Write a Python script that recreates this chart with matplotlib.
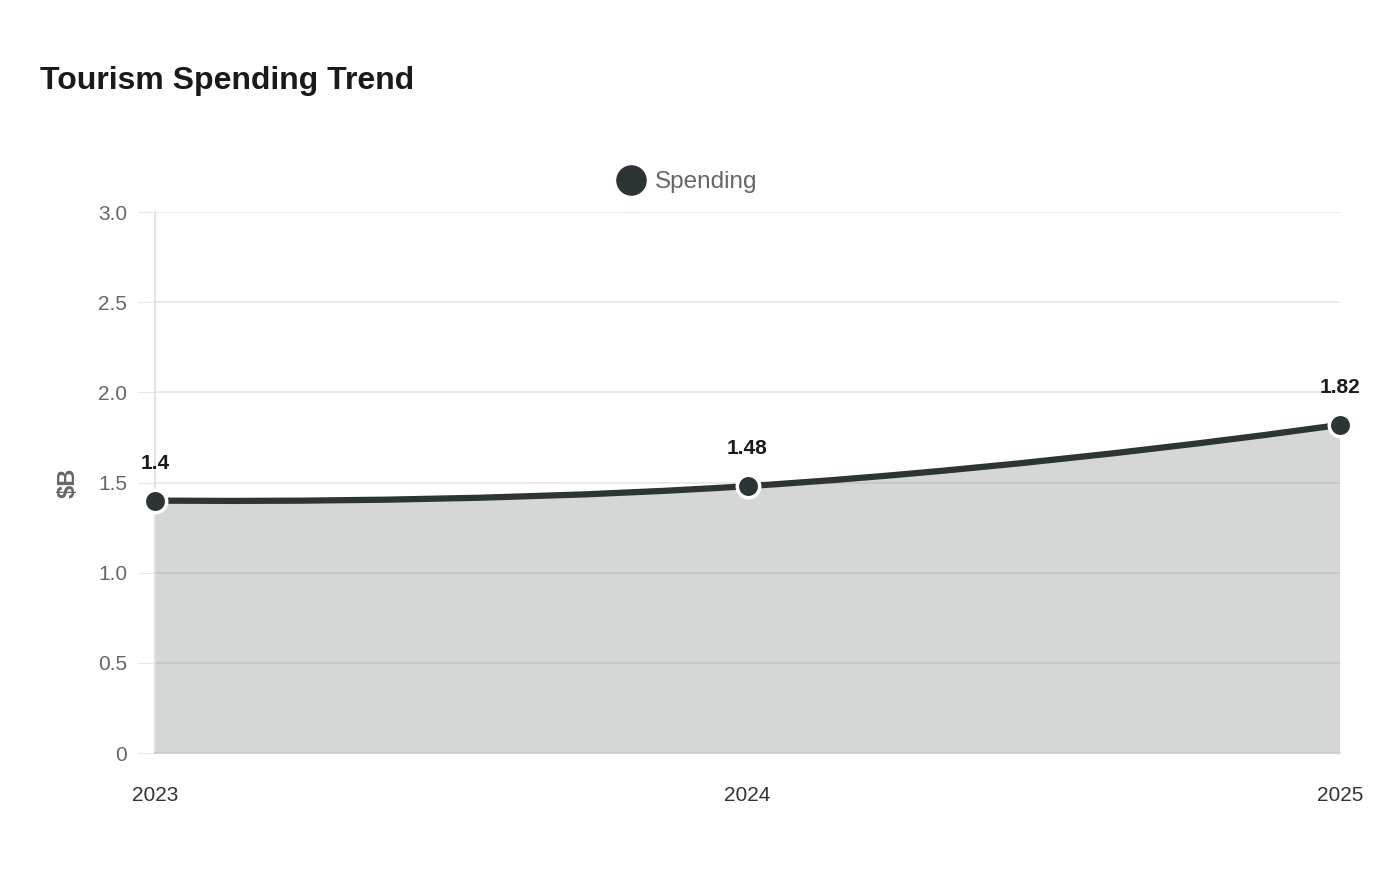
import numpy as np
import matplotlib.pyplot as plt
from matplotlib.path import Path
from matplotlib.patches import PathPatch

plt.rcParams['font.family'] = ['Liberation Sans', 'DejaVu Sans']

years = ['2023', '2024', '2025']
spending = [1.4, 1.48, 1.82]
y_ticks = [0, 0.5, 1.0, 1.5, 2.0, 2.5, 3.0]
y_tick_labels = ['0', '0.5', '1.0', '1.5', '2.0', '2.5', '3.0']

line_color = '#2d3436'

fig = plt.figure(figsize=(14, 8.8), dpi=100)
ax = fig.add_axes([155 / 1400, 1 - 753 / 880, (1340 - 155) / 1400, (753 - 212) / 880])

x = np.arange(len(years), dtype=float)
y = np.array(spending, dtype=float)

# smooth curve through the points (cubic bezier, echarts-like smoothing)
smooth = 0.5
verts = [(x[0], y[0])]
codes = [Path.MOVETO]
n = len(x)
def ctrl(i):
    if i == 0 or i == n - 1:
        return (x[i], y[i]), (x[i], y[i])
    vx, vy = x[i + 1] - x[i - 1], y[i + 1] - y[i - 1]
    d0 = np.hypot(x[i] - x[i - 1], y[i] - y[i - 1])
    d1 = np.hypot(x[i + 1] - x[i], y[i + 1] - y[i])
    r0 = d0 / (d0 + d1)
    r1 = d1 / (d0 + d1)
    before = (x[i] - vx * smooth * r0, y[i] - vy * smooth * r0)
    after = (x[i] + vx * smooth * r1, y[i] + vy * smooth * r1)
    return before, after
for i in range(n - 1):
    _, c1 = ctrl(i)
    c2, _ = ctrl(i + 1)
    verts += [c1, c2, (x[i + 1], y[i + 1])]
    codes += [Path.CURVE4] * 3
line_path = Path(verts, codes)

fill_verts = verts + [(x[-1], 0), (x[0], 0), (x[0], y[0])]
fill_codes = codes + [Path.LINETO, Path.LINETO, Path.CLOSEPOLY]
ax.add_patch(PathPatch(Path(fill_verts, fill_codes), facecolor=line_color, alpha=0.2,
                       edgecolor='none', zorder=2))
ax.add_patch(PathPatch(line_path, facecolor='none', edgecolor=line_color, lw=4.5,
                       zorder=3, capstyle='round'))
ax.scatter(x, y, s=260, color=line_color, edgecolor='white', linewidth=2.5, zorder=4,
           clip_on=False)

for xi, yi in zip(x, y):
    ax.annotate(f'{yi:g}', (xi, yi), xytext=(0, 20), textcoords='offset points',
                ha='center', va='bottom', fontsize=15, fontweight='bold', color='#1a1a1a')

ax.set_xlim(0, n - 1)
ax.set_ylim(0, 3.0)
ax.set_yticks(y_ticks)
ax.set_yticklabels(y_tick_labels)
ax.set_xticks(x)
ax.set_xticklabels(years)
ax.grid(axis='y', color='#e6e6e6', lw=1.2, zorder=1)
ax.set_axisbelow(True)
ax.tick_params(axis='y', length=12, color='#e6e6e6', labelsize=15, labelcolor='#666666', pad=8)
ax.tick_params(axis='x', length=0, labelsize=15, labelcolor='#333333', pad=24)
for s in ['top', 'right']:
    ax.spines[s].set_visible(False)
ax.spines['left'].set_color('#dddddd')
ax.spines['bottom'].set_color('#cccccc')
ax.spines['left'].set_linewidth(1.2)
ax.spines['bottom'].set_linewidth(1.2)

ax.set_ylabel('$B', fontsize=17, fontweight='bold', color='#666666', labelpad=20)
ax.yaxis.set_label_coords(-75 / 1185, 0.5)

fig.text(40 / 1400, 1 - 81 / 880, 'Tourism Spending Trend', fontsize=23, fontweight='bold',
         color='#1a1a1a', va='center', ha='left')

# legend
fig.lines.append(plt.Line2D([631 / 1400], [1 - 180 / 880], marker='o', markersize=21,
                            color=line_color, transform=fig.transFigure, linestyle='none'))
fig.text(655 / 1400, 1 - 182 / 880, 'Spending', fontsize=17.5, color='#666666',
         va='center', ha='left')

fig.savefig('out.png', dpi=100)
